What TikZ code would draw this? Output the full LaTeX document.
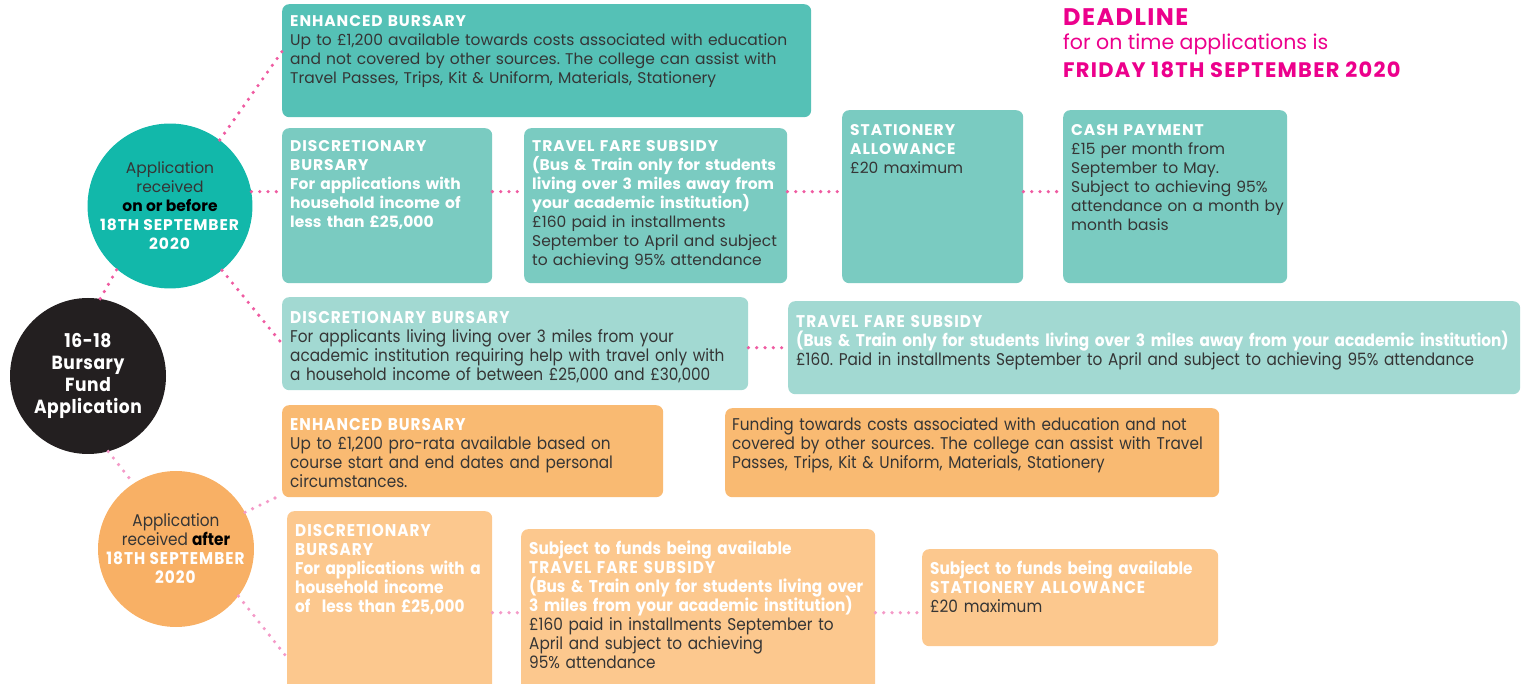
\documentclass[tikz,border=0pt]{standalone}
\usepackage{fontspec}
\setmainfont{Poppins}
\newfontfamily\narrowfont{Poppins}[FakeStretch=0.9]
\usepackage{tikz}
\usetikzlibrary{positioning}
\usetikzlibrary{calc}
\definecolor{tealdark}{HTML}{55C1B6}
\definecolor{tealmid}{HTML}{7ACBC1}
\definecolor{teallight}{HTML}{A2D9D2}
\definecolor{tealcirc}{HTML}{12B8AA}
\definecolor{orangedark}{HTML}{F9BA72}
\definecolor{orangelight}{HTML}{FCC88E}
\definecolor{orangecirc}{HTML}{F8B065}
\definecolor{blackcirc}{HTML}{231F20}
\definecolor{bodygray}{HTML}{353535}
\definecolor{dotpink}{HTML}{EF5BA1}
\definecolor{dotlight}{HTML}{F49AC8}
\definecolor{deadline}{HTML}{EC008C}
\frenchspacing
\lineskiplimit=-20pt
\newcommand{\bodyfont}{\fontsize{15.5}{19}\selectfont\lineskiplimit=-20pt}
\newcommand{\narrowbody}{\narrowfont\fontsize{17}{19}\selectfont\lineskiplimit=-20pt}
\newcommand{\hd}{\color{white}\bfseries}
\newcommand{\bd}{\color{bodygray}\mdseries}
\newcommand{\cp}[1]{{\addfontfeature{LetterSpace=6}#1}}

\begin{document}
\begin{tikzpicture}[x=1pt,y=-1pt,
    box/.style={rounded corners=7pt,anchor=north west,inner sep=0pt,draw=none},
    txt/.style={anchor=north west,inner sep=0pt,align=left,text=bodygray,font=\bodyfont},
    ntxt/.style={txt,font=\narrowbody},
    dots/.style={line width=3.6pt,line cap=round,dash pattern=on 0pt off 8.3pt,draw=dotpink},
    ldots/.style={dots,draw=dotlight},
    circ/.style={circle,minimum size=156pt,inner sep=0pt,align=center}]
\useasboundingbox (0,0) rectangle (1524,684);

% circles
\node[circ,fill=blackcirc,text=white,font=\narrowfont\fontsize{19}{22}\selectfont\bfseries\addfontfeature{LetterSpace=3}] (circB) at (88,376) {16-18\\Bursary\\Fund\\Application};
\node[circ,fill=tealcirc,text=bodygray,font=\bodyfont] (circA) at (170,206) {Application\\received\\\textcolor{black}{\textbf{on or before}}\\\textcolor{white}{\textbf{\cp{18TH SEPTEMBER}}}\\\textcolor{white}{\textbf{\cp{2020}}}};
\node[circ,fill=orangecirc,text=bodygray,font=\narrowbody] (circC) at (176,549) {Application\\received \textcolor{black}{\textbf{after}}\\\textcolor{white}{\textbf{\cp{18TH SEPTEMBER}}}\\\textcolor{white}{\textbf{\cp{2020}}}};

% boxes, on time
\node[box,fill=tealdark,minimum width=529,minimum height=113] (enh1) at (282,4) {};
\node[box,fill=tealmid,minimum width=210,minimum height=155] (disc1) at (282,128) {};
\node[box,fill=tealmid,minimum width=263,minimum height=155] (travel1) at (524,128) {};
\node[box,fill=tealmid,minimum width=181,minimum height=173] (stat1) at (842,110) {};
\node[box,fill=tealmid,minimum width=224,minimum height=173] (cash1) at (1063,110) {};
\node[box,fill=teallight,minimum width=466,minimum height=93] (disc2) at (282,297) {};
\node[box,fill=teallight,minimum width=732,minimum height=93] (travel2) at (788,301) {};

% boxes, after
\node[box,fill=orangedark,minimum width=381,minimum height=92] (enh3) at (282,405) {};
\node[box,fill=orangedark,minimum width=494,minimum height=89] (fund3) at (725,408) {};
\node[box,fill=orangelight,minimum width=205,minimum height=185] (disc3) at (287,511) {};
\node[box,fill=orangelight,minimum width=354,minimum height=167] (travel3) at (521,529) {};
\node[box,fill=orangelight,minimum width=296,minimum height=97] (stat3) at (922,549) {};

% texts
\node[txt,text width=520] (tenh1) at (290,15) {\hd\cp{ENHANCED BURSARY}\\\bd Up to £1,200 available towards costs associated with education\\and not covered by other sources. The college can assist with\\Travel Passes, Trips, Kit \& Uniform, Materials, Stationery};
\node[txt,text width=200] (tdisc1) at (290,140) {\hd\cp{DISCRETIONARY\\BURSARY}\\For applications with\\household income of\\less than £25,000};
\node[txt,text width=260] (ttravel1) at (532,140) {\hd\cp{TRAVEL FARE SUBSIDY}\\(Bus \& Train only for students\\living over 3 miles away from\\your academic institution)\\\bd £160 paid in installments\\September to April and subject\\to achieving 95\% attendance};
\node[txt,text width=175] (tstat1) at (850,124) {\hd\cp{STATIONERY\\ALLOWANCE}\\\bd £20 maximum};
\node[txt,text width=215] (tcash1) at (1071,124) {\hd\cp{CASH PAYMENT}\\\bd £15 per month from\\September to May.\\Subject to achieving 95\%\\attendance on a month by\\month basis};
\node[ntxt,text width=460] (tdisc2) at (290,311) {\hd\cp{DISCRETIONARY BURSARY}\\\bd For applicants living living over 3 miles from your\\academic institution requiring help with travel only with\\a household income of between £25,000 and £30,000};
\node[ntxt,text width=728] (ttravel2) at (796,315) {\hd\cp{TRAVEL FARE SUBSIDY}\\(Bus \& Train only for students living over 3 miles away from your academic institution)\\\bd £160. Paid in installments September to April and subject to achieving 95\% attendance};
\node[ntxt,text width=375] (tenh3) at (290,418) {\hd\cp{ENHANCED BURSARY}\\\bd Up to £1,200 pro-rata available based on\\course start and end dates and personal\\circumstances.};
\node[ntxt,text width=488] (tfund3) at (732,417) {Funding towards costs associated with education and not\\covered by other sources. The college can assist with Travel\\Passes, Trips, Kit \& Uniform, Materials, Stationery};
\node[ntxt,text width=200] (tdisc3) at (295,524) {\hd\cp{DISCRETIONARY\\BURSARY}\\For applications with a\\household income\\of~ less than £25,000};
\node[ntxt,text width=350] (ttravel3) at (529,541) {\hd Subject to funds being available\\\cp{TRAVEL FARE SUBSIDY}\\(Bus \& Train only for students living over\\3 miles from your academic institution)\\\bd £160 paid in installments September to\\April and subject to achieving\\95\% attendance};
\node[ntxt,text width=290] (tstat3) at (930,561) {\hd Subject to funds being available\\\cp{STATIONERY ALLOWANCE}\\\bd £20 maximum};

% deadline
\node[anchor=base west,inner sep=0pt,text=deadline,font=\fontsize{24}{26}\selectfont\bfseries] (dline1) at (1063,26) {\cp{DEADLINE}};
\node[anchor=base west,inner sep=0pt,text=deadline,font=\fontsize{20.5}{26}\selectfont] (dline2) at (1063,50) {for on time applications is};
\node[anchor=base west,inner sep=0pt,text=deadline,font=\fontsize{21}{26}\selectfont\bfseries] (dline3) at (1063,78) {\cp{FRIDAY 18TH SEPTEMBER 2020}};

% connectors
\draw[dots] (circA.53) -- ($(enh1.north west)!0.42!(enh1.south west)$);
\draw[dots] (circA.10) -- (disc1.west |- circA.10);
\draw[dots] (disc1.east |- circA.10) -- (travel1.west |- circA.10);
\draw[dots] (travel1.east |- circA.10) -- (stat1.west |- circA.10);
\draw[dots] (stat1.east |- circA.10) -- (cash1.west |- circA.10);
\draw[dots] (circA.-51) -- (disc2.west);
\draw[dots] (disc2.east |- travel2.west) -- (travel2.west);
\draw[dots] (circB.81) -- (circA.-130);
\draw[ldots] (circB.-75) -- (circC.123);
\draw[ldots] (circC.28) -- ($(enh3.north west)!0.97!(enh3.south west)$);
\draw[ldots] (circC.-37) -- ($(disc3.north west)!0.79!(disc3.south west)$);
\draw[ldots] (disc3.east |- travel3.west) -- (travel3.west);
\draw[ldots] (travel3.east) -- (stat3.west |- travel3.east);
\end{tikzpicture}
\end{document}
